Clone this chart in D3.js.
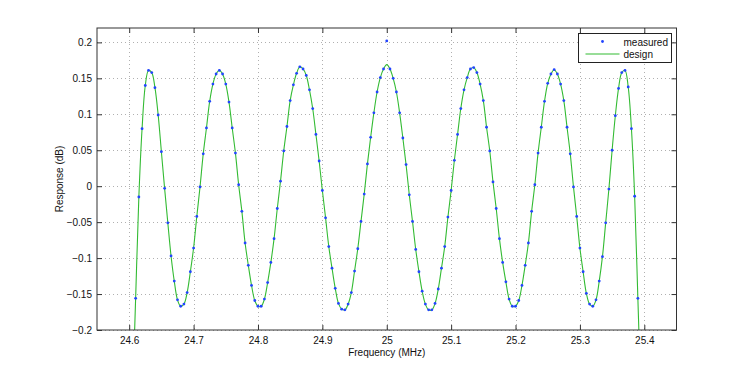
<!DOCTYPE html>
<html lang="en">
<head>
<meta charset="UTF-8">
<title>Response vs Frequency</title>
<script src="https://d3js.org/d3.v7.min.js"></script>
<style>
  body { margin: 0; background: #ffffff; }
  svg { display: block; font-family: "Liberation Sans", Arial, sans-serif; }
</style>
</head>
<body>
<div id="chart"></div>
<script>
// measurement sweep (MHz) and measured response (dB)
const freqMHz = [
  24.610, 24.615, 24.620, 24.625, 24.630, 24.635, 24.640, 24.645, 24.650, 24.655,
  24.660, 24.665, 24.670, 24.675, 24.680, 24.685, 24.690, 24.695, 24.700, 24.705,
  24.710, 24.715, 24.720, 24.725, 24.730, 24.735, 24.740, 24.745, 24.750, 24.755,
  24.760, 24.765, 24.770, 24.775, 24.780, 24.785, 24.790, 24.795, 24.800, 24.805,
  24.810, 24.815, 24.820, 24.825, 24.830, 24.835, 24.840, 24.845, 24.850, 24.855,
  24.860, 24.865, 24.870, 24.875, 24.880, 24.885, 24.890, 24.895, 24.900, 24.905,
  24.910, 24.915, 24.920, 24.925, 24.930, 24.935, 24.940, 24.945, 24.950, 24.955,
  24.960, 24.965, 24.970, 24.975, 24.980, 24.985, 24.990, 24.995, 25.000, 25.005,
  25.010, 25.015, 25.020, 25.025, 25.030, 25.035, 25.040, 25.045, 25.050, 25.055,
  25.060, 25.065, 25.070, 25.075, 25.080, 25.085, 25.090, 25.095, 25.100, 25.105,
  25.110, 25.115, 25.120, 25.125, 25.130, 25.135, 25.140, 25.145, 25.150, 25.155,
  25.160, 25.165, 25.170, 25.175, 25.180, 25.185, 25.190, 25.195, 25.200, 25.205,
  25.210, 25.215, 25.220, 25.225, 25.230, 25.235, 25.240, 25.245, 25.250, 25.255,
  25.260, 25.265, 25.270, 25.275, 25.280, 25.285, 25.290, 25.295, 25.300, 25.305,
  25.310, 25.315, 25.320, 25.325, 25.330, 25.335, 25.340, 25.345, 25.350, 25.355,
  25.360, 25.365, 25.370, 25.375, 25.380, 25.385, 25.390
];
const measured = [
  -0.156, -0.015, 0.080, 0.140, 0.161, 0.158, 0.137, 0.099, 0.048, -0.003,
  -0.051, -0.097, -0.132, -0.158, -0.167, -0.164, -0.148, -0.119, -0.086, -0.042,
  -0.001, 0.045, 0.081, 0.118, 0.142, 0.156, 0.161, 0.156, 0.142, 0.117,
  0.081, 0.046, 0.002, -0.035, -0.079, -0.110, -0.138, -0.159, -0.167, -0.167,
  -0.157, -0.134, -0.106, -0.073, -0.031, 0.007, 0.049, 0.083, 0.119, 0.141,
  0.157, 0.166, 0.163, 0.154, 0.134, 0.108, 0.072, 0.035, -0.006, -0.044,
  -0.084, -0.114, -0.142, -0.163, -0.171, -0.172, -0.164, -0.148, -0.118, -0.087,
  -0.049, -0.011, 0.031, 0.068, 0.102, 0.131, 0.151, 0.163, 0.202, 0.163,
  0.150, 0.131, 0.102, 0.067, 0.030, -0.012, -0.049, -0.088, -0.119, -0.146,
  -0.164, -0.172, -0.172, -0.163, -0.143, -0.114, -0.084, -0.043, -0.006, 0.036,
  0.072, 0.108, 0.134, 0.151, 0.163, 0.165, 0.158, 0.142, 0.119, 0.082,
  0.049, 0.006, -0.031, -0.073, -0.106, -0.133, -0.157, -0.167, -0.167, -0.159,
  -0.138, -0.110, -0.079, -0.035, 0.002, 0.046, 0.082, 0.118, 0.143, 0.156,
  0.162, 0.156, 0.142, 0.119, 0.082, 0.045, -0.001, -0.042, -0.086, -0.119,
  -0.149, -0.164, -0.167, -0.158, -0.132, -0.098, -0.051, -0.004, 0.050, 0.098,
  0.136, 0.158, 0.161, 0.138, 0.080, -0.014, -0.156
];

// design curve, extends past the plot at both ends
const designFreqMHz = [24.605].concat(freqMHz, [25.395]);
const design = [
  -0.300,
  -0.156, -0.015, 0.080, 0.140, 0.161, 0.158, 0.137, 0.099, 0.048, -0.003,
  -0.051, -0.097, -0.132, -0.158, -0.167, -0.164, -0.148, -0.119, -0.086, -0.042,
  -0.001, 0.045, 0.081, 0.118, 0.142, 0.156, 0.161, 0.156, 0.142, 0.117,
  0.081, 0.046, 0.002, -0.035, -0.079, -0.110, -0.138, -0.159, -0.167, -0.167,
  -0.157, -0.134, -0.106, -0.073, -0.031, 0.007, 0.049, 0.083, 0.119, 0.141,
  0.157, 0.166, 0.163, 0.154, 0.134, 0.108, 0.072, 0.035, -0.006, -0.044,
  -0.084, -0.114, -0.142, -0.163, -0.171, -0.172, -0.164, -0.148, -0.118, -0.087,
  -0.049, -0.011, 0.031, 0.068, 0.102, 0.131, 0.151, 0.163, 0.169, 0.163,
  0.150, 0.131, 0.102, 0.067, 0.030, -0.012, -0.049, -0.088, -0.119, -0.146,
  -0.164, -0.172, -0.172, -0.163, -0.143, -0.114, -0.084, -0.043, -0.006, 0.036,
  0.072, 0.108, 0.134, 0.151, 0.163, 0.165, 0.158, 0.142, 0.119, 0.082,
  0.049, 0.006, -0.031, -0.073, -0.106, -0.133, -0.157, -0.167, -0.167, -0.159,
  -0.138, -0.110, -0.079, -0.035, 0.002, 0.046, 0.082, 0.118, 0.143, 0.156,
  0.162, 0.156, 0.142, 0.119, 0.082, 0.045, -0.001, -0.042, -0.086, -0.119,
  -0.149, -0.164, -0.167, -0.158, -0.132, -0.098, -0.051, -0.004, 0.050, 0.098,
  0.136, 0.158, 0.161, 0.138, 0.080, -0.014, -0.156,
  -0.300
];

const xTicks = [24.6, 24.7, 24.8, 24.9, 25.0, 25.1, 25.2, 25.3, 25.4];
const yTicks = [-0.2, -0.15, -0.1, -0.05, 0, 0.05, 0.1, 0.15, 0.2];
const xDomain = [24.55, 25.45];
const yDomain = [-0.2, 0.22];

const width = 747, height = 372;
const margin = { top: 28, right: 70.5, bottom: 42, left: 97 };
const innerW = width - margin.left - margin.right;
const innerH = height - margin.top - margin.bottom;

const x = d3.scaleLinear().domain(xDomain).range([0, innerW]);
const y = d3.scaleLinear().domain(yDomain).range([innerH, 0]);

const svg = d3.select("#chart").append("svg")
  .attr("width", width)
  .attr("height", height);

const g = svg.append("g").attr("transform", `translate(${margin.left},${margin.top})`);

g.append("defs").append("clipPath").attr("id", "plot-clip")
  .append("rect").attr("width", innerW).attr("height", innerH);

// dotted grid
const grid = g.append("g").attr("stroke", "#b0b0b0").attr("stroke-dasharray", "1,3");
grid.selectAll(".gx").data(xTicks).join("line")
  .attr("x1", d => Math.round(x(d)) + 0.5).attr("x2", d => Math.round(x(d)) + 0.5)
  .attr("y1", 0).attr("y2", innerH);
grid.selectAll(".gy").data(yTicks).join("line")
  .attr("y1", d => Math.round(y(d)) + 0.5).attr("y2", d => Math.round(y(d)) + 0.5)
  .attr("x1", 0).attr("x2", innerW);

// axes (ticks pointing inward, mirrored on top/right), matlab-style labels
const fmt = d => String(+d.toFixed(2)).replace("-", "\u2212");
const axStyle = sel => {
  sel.select(".domain").remove();
  sel.selectAll("line").attr("stroke", "#333");
  sel.selectAll("text").attr("fill", "#111").style("font-size", "10px");
};
g.append("g").attr("transform", `translate(0,${innerH})`)
  .call(d3.axisBottom(x).tickValues(xTicks).tickFormat(fmt).tickSizeInner(-5).tickPadding(7))
  .call(axStyle);
g.append("g")
  .call(d3.axisTop(x).tickValues(xTicks).tickSizeInner(-5).tickFormat(""))
  .call(axStyle);
g.append("g")
  .call(d3.axisLeft(y).tickValues(yTicks).tickFormat(fmt).tickSizeInner(-5).tickPadding(5))
  .call(axStyle);
g.append("g").attr("transform", `translate(${innerW},0)`)
  .call(d3.axisRight(y).tickValues(yTicks).tickSizeInner(-5).tickFormat(""))
  .call(axStyle);

// design line
const line = d3.line()
  .x((d, i) => x(designFreqMHz[i]))
  .y(d => y(d))
  .curve(d3.curveCatmullRom.alpha(0.5));
g.append("path")
  .attr("clip-path", "url(#plot-clip)")
  .attr("d", line(design))
  .attr("fill", "none")
  .attr("stroke", "#33bb33")
  .attr("stroke-width", 1.1);

// measured points
g.append("g").attr("fill", "#2244ff")
  .selectAll("circle").data(measured).join("circle")
  .attr("cx", (d, i) => x(freqMHz[i]))
  .attr("cy", d => y(d))
  .attr("r", 1.4);

// box
g.append("rect").attr("width", innerW).attr("height", innerH)
  .attr("fill", "none").attr("stroke", "#333").attr("stroke-width", 1);

// axis labels
svg.append("text")
  .attr("x", margin.left + innerW / 2).attr("y", 356)
  .attr("text-anchor", "middle").style("font-size", "10px").attr("fill", "#111")
  .text("Frequency (MHz)");
svg.append("text")
  .attr("transform", `translate(63,${margin.top + innerH / 2}) rotate(-90)`)
  .attr("text-anchor", "middle").style("font-size", "10px").attr("fill", "#111")
  .text("Response (dB)");

// legend
const lg = svg.append("g").attr("transform", "translate(578.5,33.5)");
lg.append("rect").attr("width", 93).attr("height", 29)
  .attr("fill", "#fff").attr("stroke", "#222").attr("stroke-width", 1);
lg.append("circle").attr("cx", 24).attr("cy", 8).attr("r", 1.4).attr("fill", "#2244ff");
lg.append("text").attr("x", 45).attr("y", 12).style("font-size", "10px").attr("fill", "#111").text("measured");
lg.append("line").attr("x1", 7).attr("x2", 41).attr("y1", 20.5).attr("y2", 20.5)
  .attr("stroke", "#33bb33").attr("stroke-width", 1.1);
lg.append("text").attr("x", 45).attr("y", 24).style("font-size", "10px").attr("fill", "#111").text("design");
</script>
</body>
</html>
